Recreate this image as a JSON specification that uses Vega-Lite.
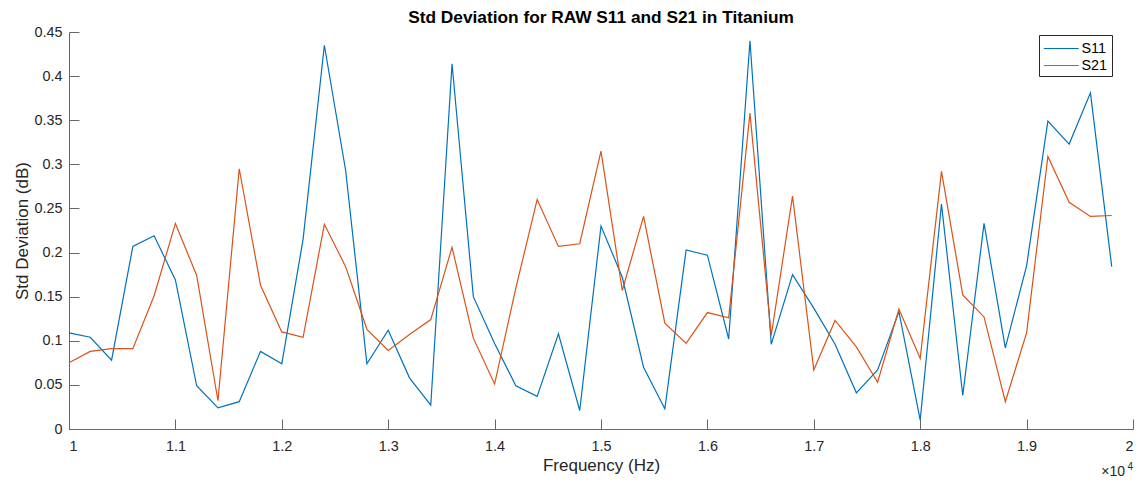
{
  "$schema": "https://vega.github.io/schema/vega-lite/v6.json",
  "autosize": "none",
  "width": 1064,
  "height": 397,
  "padding": {"left": 69, "top": 32, "right": 7, "bottom": 54},
  "background": "white",
  "config": {
    "view": {"stroke": null},
    "font": "Liberation Sans",
    "axis": {
      "grid": false,
      "domainColor": "#666666",
      "tickColor": "#666666",
      "labelColor": "#262626",
      "titleColor": "#262626",
      "labelFont": "Liberation Sans",
      "titleFont": "Liberation Sans",
      "labelFontSize": 14.4,
      "titleFontSize": 17,
      "titleFontWeight": "normal",
      "tickSize": -10,
      "domainWidth": 1,
      "tickWidth": 1
    }
  },
  "title": {
    "text": "Std Deviation for RAW S11 and S21 in Titanium",
    "font": "Liberation Sans",
    "fontSize": 17.3,
    "fontWeight": "bold",
    "color": "#000000",
    "anchor": "middle",
    "offset": -2
  },
  "datasets": {
    "std": [
      {"freq": 10000, "series": "S11", "std": 0.109},
      {"freq": 10200, "series": "S11", "std": 0.104},
      {"freq": 10400, "series": "S11", "std": 0.078},
      {"freq": 10600, "series": "S11", "std": 0.207},
      {"freq": 10800, "series": "S11", "std": 0.219},
      {"freq": 11000, "series": "S11", "std": 0.169},
      {"freq": 11200, "series": "S11", "std": 0.049},
      {"freq": 11400, "series": "S11", "std": 0.024},
      {"freq": 11600, "series": "S11", "std": 0.031},
      {"freq": 11800, "series": "S11", "std": 0.088},
      {"freq": 12000, "series": "S11", "std": 0.074},
      {"freq": 12200, "series": "S11", "std": 0.215},
      {"freq": 12400, "series": "S11", "std": 0.435},
      {"freq": 12600, "series": "S11", "std": 0.293},
      {"freq": 12800, "series": "S11", "std": 0.074},
      {"freq": 13000, "series": "S11", "std": 0.112},
      {"freq": 13200, "series": "S11", "std": 0.058},
      {"freq": 13400, "series": "S11", "std": 0.027},
      {"freq": 13600, "series": "S11", "std": 0.414},
      {"freq": 13800, "series": "S11", "std": 0.150},
      {"freq": 14000, "series": "S11", "std": 0.097},
      {"freq": 14200, "series": "S11", "std": 0.049},
      {"freq": 14400, "series": "S11", "std": 0.037},
      {"freq": 14600, "series": "S11", "std": 0.108},
      {"freq": 14800, "series": "S11", "std": 0.021},
      {"freq": 15000, "series": "S11", "std": 0.230},
      {"freq": 15200, "series": "S11", "std": 0.172},
      {"freq": 15400, "series": "S11", "std": 0.070},
      {"freq": 15600, "series": "S11", "std": 0.023},
      {"freq": 15800, "series": "S11", "std": 0.203},
      {"freq": 16000, "series": "S11", "std": 0.197},
      {"freq": 16200, "series": "S11", "std": 0.102},
      {"freq": 16400, "series": "S11", "std": 0.440},
      {"freq": 16600, "series": "S11", "std": 0.096},
      {"freq": 16800, "series": "S11", "std": 0.175},
      {"freq": 17000, "series": "S11", "std": 0.137},
      {"freq": 17200, "series": "S11", "std": 0.096},
      {"freq": 17400, "series": "S11", "std": 0.041},
      {"freq": 17600, "series": "S11", "std": 0.067},
      {"freq": 17800, "series": "S11", "std": 0.133},
      {"freq": 18000, "series": "S11", "std": 0.010},
      {"freq": 18200, "series": "S11", "std": 0.255},
      {"freq": 18400, "series": "S11", "std": 0.038},
      {"freq": 18600, "series": "S11", "std": 0.233},
      {"freq": 18800, "series": "S11", "std": 0.092},
      {"freq": 19000, "series": "S11", "std": 0.185},
      {"freq": 19200, "series": "S11", "std": 0.349},
      {"freq": 19400, "series": "S11", "std": 0.323},
      {"freq": 19600, "series": "S11", "std": 0.381},
      {"freq": 19800, "series": "S11", "std": 0.184},
      {"freq": 10000, "series": "S21", "std": 0.075},
      {"freq": 10200, "series": "S21", "std": 0.088},
      {"freq": 10400, "series": "S21", "std": 0.091},
      {"freq": 10600, "series": "S21", "std": 0.091},
      {"freq": 10800, "series": "S21", "std": 0.151},
      {"freq": 11000, "series": "S21", "std": 0.233},
      {"freq": 11200, "series": "S21", "std": 0.174},
      {"freq": 11400, "series": "S21", "std": 0.032},
      {"freq": 11600, "series": "S21", "std": 0.295},
      {"freq": 11800, "series": "S21", "std": 0.163},
      {"freq": 12000, "series": "S21", "std": 0.110},
      {"freq": 12200, "series": "S21", "std": 0.104},
      {"freq": 12400, "series": "S21", "std": 0.232},
      {"freq": 12600, "series": "S21", "std": 0.184},
      {"freq": 12800, "series": "S21", "std": 0.113},
      {"freq": 13000, "series": "S21", "std": 0.089},
      {"freq": 13200, "series": "S21", "std": 0.107},
      {"freq": 13400, "series": "S21", "std": 0.124},
      {"freq": 13600, "series": "S21", "std": 0.206},
      {"freq": 13800, "series": "S21", "std": 0.103},
      {"freq": 14000, "series": "S21", "std": 0.051},
      {"freq": 14200, "series": "S21", "std": 0.160},
      {"freq": 14400, "series": "S21", "std": 0.260},
      {"freq": 14600, "series": "S21", "std": 0.207},
      {"freq": 14800, "series": "S21", "std": 0.210},
      {"freq": 15000, "series": "S21", "std": 0.315},
      {"freq": 15200, "series": "S21", "std": 0.157},
      {"freq": 15400, "series": "S21", "std": 0.241},
      {"freq": 15600, "series": "S21", "std": 0.120},
      {"freq": 15800, "series": "S21", "std": 0.097},
      {"freq": 16000, "series": "S21", "std": 0.132},
      {"freq": 16200, "series": "S21", "std": 0.126},
      {"freq": 16400, "series": "S21", "std": 0.358},
      {"freq": 16600, "series": "S21", "std": 0.106},
      {"freq": 16800, "series": "S21", "std": 0.264},
      {"freq": 17000, "series": "S21", "std": 0.067},
      {"freq": 17200, "series": "S21", "std": 0.123},
      {"freq": 17400, "series": "S21", "std": 0.093},
      {"freq": 17600, "series": "S21", "std": 0.053},
      {"freq": 17800, "series": "S21", "std": 0.136},
      {"freq": 18000, "series": "S21", "std": 0.080},
      {"freq": 18200, "series": "S21", "std": 0.292},
      {"freq": 18400, "series": "S21", "std": 0.152},
      {"freq": 18600, "series": "S21", "std": 0.127},
      {"freq": 18800, "series": "S21", "std": 0.031},
      {"freq": 19000, "series": "S21", "std": 0.109},
      {"freq": 19200, "series": "S21", "std": 0.309},
      {"freq": 19400, "series": "S21", "std": 0.257},
      {"freq": 19600, "series": "S21", "std": 0.241},
      {"freq": 19800, "series": "S21", "std": 0.242}
    ],
    "exponent": [{"freq": 20000, "std": 0, "base": "×10", "power": "4"}]
  },
  "layer": [
    {
      "data": {"name": "std"},
      "mark": {"type": "line", "strokeWidth": 1.2, "interpolate": "linear"},
      "encoding": {
        "x": {
          "field": "freq",
          "type": "quantitative",
          "scale": {"domain": [10000, 20000], "nice": false, "zero": false},
          "axis": {
            "title": "Frequency (Hz)",
            "values": [10000, 11000, 12000, 13000, 14000, 15000, 16000, 17000, 18000, 19000, 20000],
            "labelExpr": "format(datum.value / 10000, '~g')",
            "labelPadding": 20,
            "titlePadding": 5
          }
        },
        "y": {
          "field": "std",
          "type": "quantitative",
          "scale": {"domain": [0, 0.45], "nice": false},
          "axis": {
            "title": "Std Deviation (dB)",
            "values": [0, 0.05, 0.1, 0.15, 0.2, 0.25, 0.3, 0.35, 0.4, 0.45],
            "format": ".2~f",
            "labelPadding": 17,
            "titlePadding": 2
          }
        },
        "color": {
          "field": "series",
          "type": "nominal",
          "scale": {"domain": ["S11", "S21"], "range": ["#0072BD", "#D95319"]},
          "legend": {
            "title": null,
            "orient": "none",
            "legendX": 970,
            "legendY": 3,
            "symbolType": "M-1,0H3",
            "symbolSize": 306,
            "symbolStrokeWidth": 1.2,
            "labelFont": "Liberation Sans",
            "labelFontSize": 14.4,
            "labelColor": "#000000",
            "strokeColor": "#262626",
            "fillColor": "white",
            "padding": 4,
            "rowPadding": 1,
            "labelOffset": 19.5
          }
        }
      }
    },
    {
      "data": {"name": "exponent"},
      "mark": {"type": "text", "align": "right", "baseline": "alphabetic", "dx": -8, "dy": 47, "fontSize": 14, "color": "#262626", "font": "Liberation Sans"},
      "encoding": {
        "x": {"field": "freq", "type": "quantitative"},
        "y": {"field": "std", "type": "quantitative"},
        "text": {"field": "base"}
      }
    },
    {
      "data": {"name": "exponent"},
      "mark": {"type": "text", "align": "right", "baseline": "alphabetic", "dx": 0, "dy": 41, "fontSize": 10, "color": "#262626", "font": "Liberation Sans"},
      "encoding": {
        "x": {"field": "freq", "type": "quantitative"},
        "y": {"field": "std", "type": "quantitative"},
        "text": {"field": "power"}
      }
    }
  ]
}
